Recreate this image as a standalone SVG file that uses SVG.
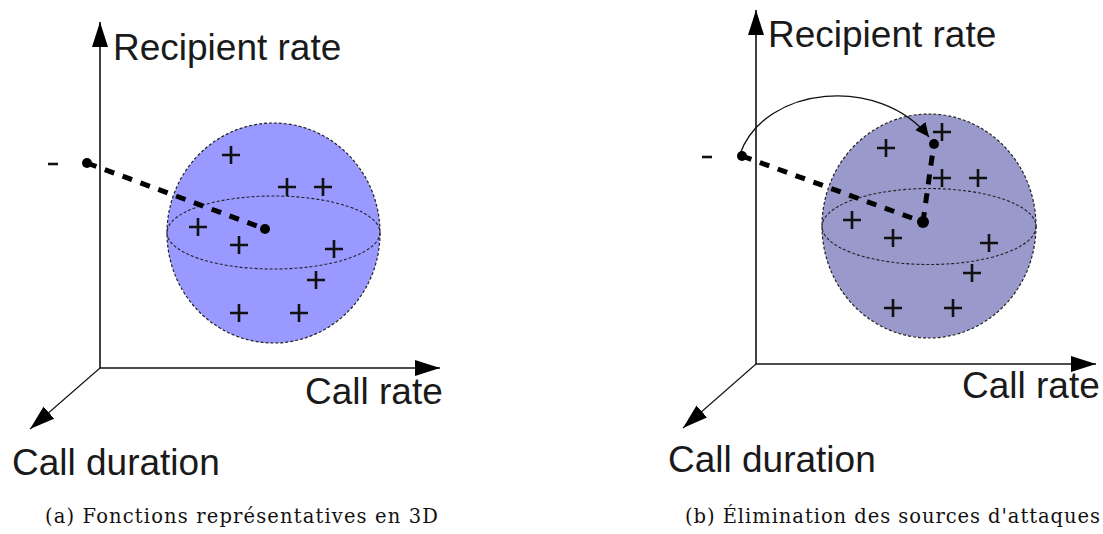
<svg xmlns="http://www.w3.org/2000/svg" width="1103" height="534" viewBox="0 0 1103 534">
<style>
.axis{stroke:#111;stroke-width:1.6;fill:none}
.axis3{stroke:#111;stroke-width:1.1;fill:none}
.lbl{font-family:"Liberation Sans",Arial,sans-serif;font-size:37px;fill:#1a1a1a}
.cap{font-family:"DejaVu Serif","Liberation Serif",serif;font-size:19.5px;fill:#111}
.outline{stroke:#222;stroke-width:1.2;stroke-dasharray:3 2}
.eq{fill:none;stroke:#222;stroke-width:1.1;stroke-dasharray:3 2}
.plus{stroke:#111;stroke-width:2.6;fill:none}
.thick{stroke:#000;stroke-width:5;stroke-dasharray:10 9;fill:none}
.dot{fill:#000}
.minus{stroke:#111;stroke-width:2.6}
</style>
<defs>
<marker id="ah" markerUnits="userSpaceOnUse" markerWidth="26" markerHeight="18" refX="25" refY="8" orient="auto">
<path d="M0,0 L25,8 L0,16 z" fill="#000"/>
</marker>
<marker id="ahs" markerUnits="userSpaceOnUse" markerWidth="16" markerHeight="14" refX="14" refY="6.5" orient="auto">
<path d="M0,0 L14,6.5 L0,13 z" fill="#000"/>
</marker>
<path id="p" d="M-9,0 H9 M0,-9 V9"/>
</defs>

<g id="panel-a">
<g id="sphere-a">
<ellipse cx="273.5" cy="233" rx="106.5" ry="110" fill="#9999ff" class="outline"/>
<ellipse cx="273.5" cy="232.5" rx="106.5" ry="36.5" class="eq"/>
</g>
<g id="points-a" class="plus">
<use href="#p" x="231" y="155"/>
<use href="#p" x="287" y="187"/>
<use href="#p" x="323" y="187"/>
<use href="#p" x="198" y="227"/>
<use href="#p" x="239" y="245"/>
<use href="#p" x="334" y="249"/>
<use href="#p" x="316" y="280"/>
<use href="#p" x="239" y="313"/>
<use href="#p" x="299" y="313"/>
</g>
<g id="axes-a">
<line class="axis" x1="100" y1="368" x2="100" y2="22" marker-end="url(#ah)"/>
<line class="axis" x1="100" y1="368" x2="440" y2="368" marker-end="url(#ah)"/>
<line class="axis3" x1="100" y1="368" x2="30" y2="429" marker-end="url(#ah)"/>
</g>
<g id="connectors-a">
<line class="thick" x1="87" y1="163" x2="265" y2="229"/>
<circle class="dot" cx="87" cy="163" r="5"/>
<circle class="dot" cx="265" cy="229" r="5"/>
<line class="minus" x1="48" y1="164" x2="58" y2="164"/>
</g>
<g id="labels-a">
<text class="lbl" x="113" y="60">Recipient rate</text>
<text class="lbl" x="305" y="404">Call rate</text>
<text class="lbl" x="12" y="475">Call duration</text>
<text class="cap" x="45" y="523" textLength="393" lengthAdjust="spacing">(a) Fonctions représentatives en 3D</text>
</g>
</g>

<g id="panel-b">
<g id="sphere-b">
<ellipse cx="929" cy="226" rx="107" ry="112" fill="#9999cc" class="outline"/>
<ellipse cx="929" cy="226.5" rx="107" ry="38" class="eq"/>
</g>
<g id="points-b" class="plus">
<use href="#p" x="886" y="148"/>
<use href="#p" x="942" y="132"/>
<use href="#p" x="942" y="178"/>
<use href="#p" x="978" y="178"/>
<use href="#p" x="852" y="220"/>
<use href="#p" x="893" y="238"/>
<use href="#p" x="989" y="243"/>
<use href="#p" x="972" y="273"/>
<use href="#p" x="893" y="308"/>
<use href="#p" x="953" y="308"/>
</g>
<g id="axes-b">
<line class="axis" x1="756" y1="364" x2="756" y2="10" marker-end="url(#ah)"/>
<line class="axis" x1="756" y1="364" x2="1096" y2="364" marker-end="url(#ah)"/>
<line class="axis3" x1="756" y1="364" x2="683" y2="428" marker-end="url(#ah)"/>
</g>
<g id="connectors-b">
<line class="thick" x1="742" y1="156" x2="923" y2="222"/>
<line class="thick" x1="923" y1="222" x2="934" y2="143"/>
<path d="M740,154 C765,85 880,75 929,137" fill="none" stroke="#111" stroke-width="1.4" marker-end="url(#ahs)"/>
<circle class="dot" cx="742" cy="156" r="5"/>
<circle class="dot" cx="923" cy="222" r="6"/>
<circle class="dot" cx="934" cy="144" r="5"/>
<line class="minus" x1="702" y1="157" x2="712" y2="157"/>
</g>
<g id="labels-b">
<text class="lbl" x="962" y="398">Call rate</text>
<text class="lbl" x="768" y="47">Recipient rate</text>
<text class="lbl" x="668" y="472">Call duration</text>
<text class="cap" x="685" y="523" textLength="415" lengthAdjust="spacing">(b) Élimination des sources d'attaques</text>
</g>
</g>
</svg>
